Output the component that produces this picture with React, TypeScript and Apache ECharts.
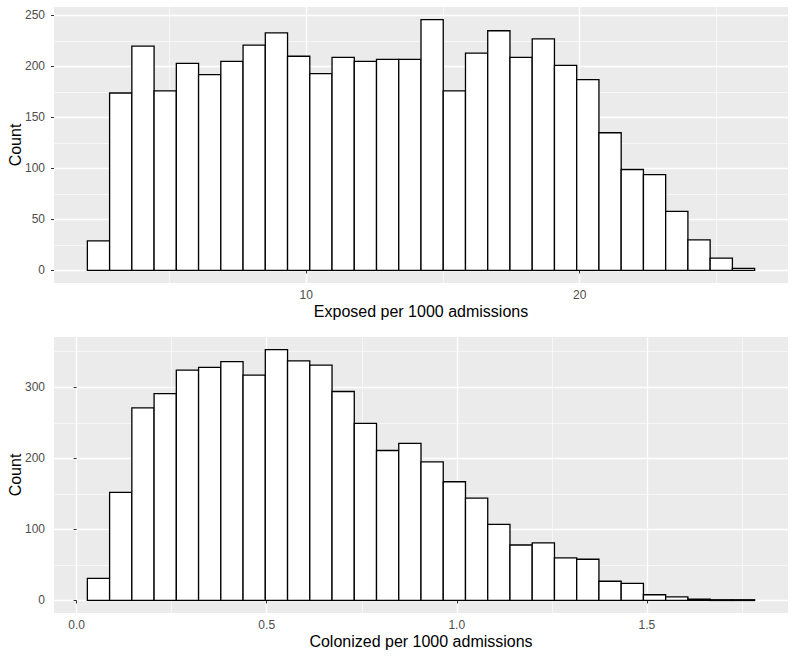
import React, { useEffect, useRef } from "react";
import * as echarts from "echarts";

// Top panel: Exposed per 1000 admissions (30 bins)
const exposedBinStart = 2.0;
const exposedBinWidth = 0.8133;
const exposedCounts = [
  29, 174, 220, 176, 203, 192, 205, 221, 233, 210,
  193, 209, 205, 207, 207, 246, 176, 213, 235, 209,
  227, 201, 187, 135, 99, 94, 58, 30, 12, 2,
];
const exposedXMajor = [10, 20];
const exposedXMinor = [5, 15, 25];
const exposedYMajor = [0, 50, 100, 150, 200, 250];
const exposedYMinor = [25, 75, 125, 175, 225];

// Bottom panel: Colonized per 1000 admissions (30 bins)
const colonizedBinStart = 0.0282;
const colonizedBinWidth = 0.05851;
const colonizedCounts = [
  31, 152, 271, 291, 324, 328, 336, 317, 353, 337,
  331, 294, 249, 211, 221, 195, 167, 144, 107, 78,
  81, 60, 58, 27, 24, 8, 5, 2, 1, 1,
];
const colonizedXMajor = [0, 0.5, 1.0, 1.5];
const colonizedXMinor = [0.25, 0.75, 1.25, 1.75];
const colonizedYMajor = [0, 100, 200, 300];
const colonizedYMinor = [50, 150, 250, 350];

const FONT = "Liberation Sans, Arial, Helvetica, sans-serif";

function binData(start: number, width: number, counts: number[]) {
  return counts.map((c, i) => [start + i * width, start + (i + 1) * width, c]);
}

function renderBar(params: any, api: any) {
  const p0 = api.coord([api.value(0), api.value(2)]);
  const p1 = api.coord([api.value(1), 0]);
  return {
    type: "rect",
    shape: { x: p0[0], y: p0[1], width: p1[0] - p0[0], height: p1[1] - p0[1] },
    style: { fill: "#FFFFFF", stroke: "#000000", lineWidth: 1.3 },
  };
}

function majorX(grid: number, min: number, max: number, ticks: number[], name: string, fmt: (v: number) => string) {
  return {
    type: "value",
    gridIndex: grid,
    min,
    max,
    name,
    nameLocation: "middle",
    nameGap: 20,
    nameMoveOverlap: false,
    nameTextStyle: { fontFamily: FONT, fontSize: 16, color: "#000000" },
    axisLine: { show: false },
    axisTick: { show: true, length: 3, lineStyle: { color: "#333333", width: 1 }, customValues: ticks },
    axisLabel: { show: true, margin: 6, fontFamily: FONT, fontSize: 12, color: "#4D4D4D", customValues: ticks, formatter: fmt },
    splitLine: { show: true, lineStyle: { color: "#FFFFFF", width: 1.3 } },
  };
}

function minorX(grid: number, min: number, max: number, ticks: number[]) {
  return {
    type: "value",
    gridIndex: grid,
    min,
    max,
    axisLine: { show: false },
    axisTick: { show: false, customValues: ticks },
    axisLabel: { show: false, customValues: ticks },
    splitLine: { show: true, lineStyle: { color: "#FFFFFF", width: 0.6 } },
  };
}

function majorY(grid: number, min: number, max: number, ticks: number[]) {
  return {
    type: "value",
    gridIndex: grid,
    min,
    max,
    name: "Count",
    nameLocation: "middle",
    nameRotate: 90,
    nameGap: 31,
    nameMoveOverlap: false,
    nameTextStyle: { fontFamily: FONT, fontSize: 16, color: "#000000" },
    axisLine: { show: false },
    axisTick: { show: true, length: 3, lineStyle: { color: "#333333", width: 1 }, customValues: ticks },
    axisLabel: { show: true, margin: 9, fontFamily: FONT, fontSize: 12, color: "#4D4D4D", customValues: ticks },
    splitLine: { show: true, lineStyle: { color: "#FFFFFF", width: 1.3 } },
  };
}

function minorY(grid: number, min: number, max: number, ticks: number[]) {
  return {
    type: "value",
    gridIndex: grid,
    min,
    max,
    axisLine: { show: false },
    axisTick: { show: false, customValues: ticks },
    axisLabel: { show: false, customValues: ticks },
    splitLine: { show: true, lineStyle: { color: "#FFFFFF", width: 0.6 } },
  };
}

export default function App() {
  const ref = useRef<HTMLDivElement>(null);

  useEffect(() => {
    if (!ref.current) return;
    const chart = echarts.init(ref.current, undefined, { renderer: "svg" });

    const eEnd = exposedBinStart + exposedCounts.length * exposedBinWidth;
    const ePad = (eEnd - exposedBinStart) * 0.05;
    const eXMin = exposedBinStart - ePad;
    const eXMax = eEnd + ePad;
    const eMaxC = Math.max(...exposedCounts);
    const eYMin = -eMaxC * 0.05;
    const eYMax = eMaxC * 1.05;

    const cEnd = colonizedBinStart + colonizedCounts.length * colonizedBinWidth;
    const cPad = (cEnd - colonizedBinStart) * 0.05;
    const cXMin = colonizedBinStart - cPad;
    const cXMax = cEnd + cPad;
    const cMaxC = Math.max(...colonizedCounts);
    const cYMin = -cMaxC * 0.05;
    const cYMax = cMaxC * 1.05;

    chart.setOption({
      animation: false,
      backgroundColor: "#FFFFFF",
      grid: [
        { left: 54, top: 7, width: 734, height: 276, show: true, backgroundColor: "#EBEBEB", borderWidth: 0, containLabel: false, outerBoundsMode: "none" },
        { left: 54, top: 337, width: 734, height: 276, show: true, backgroundColor: "#EBEBEB", borderWidth: 0, containLabel: false, outerBoundsMode: "none" },
      ],
      xAxis: [
        majorX(0, eXMin, eXMax, exposedXMajor, "Exposed per 1000 admissions", (v: number) => String(Math.round(v))),
        minorX(0, eXMin, eXMax, exposedXMinor),
        majorX(1, cXMin, cXMax, colonizedXMajor, "Colonized per 1000 admissions", (v: number) => v.toFixed(1)),
        minorX(1, cXMin, cXMax, colonizedXMinor),
      ],
      yAxis: [
        majorY(0, eYMin, eYMax, exposedYMajor),
        minorY(0, eYMin, eYMax, exposedYMinor),
        majorY(1, cYMin, cYMax, colonizedYMajor),
        minorY(1, cYMin, cYMax, colonizedYMinor),
      ],
      series: [
        {
          type: "custom",
          xAxisIndex: 0,
          yAxisIndex: 0,
          renderItem: renderBar,
          encode: { x: [0, 1], y: 2 },
          data: binData(exposedBinStart, exposedBinWidth, exposedCounts),
        },
        {
          type: "custom",
          xAxisIndex: 2,
          yAxisIndex: 2,
          renderItem: renderBar,
          encode: { x: [0, 1], y: 2 },
          data: binData(colonizedBinStart, colonizedBinWidth, colonizedCounts),
        },
      ],
    });

    return () => chart.dispose();
  }, []);

  return (
    <div
      ref={ref}
      style={{ position: "absolute", left: 0, top: 0, width: 795, height: 658 }}
    />
  );
}
